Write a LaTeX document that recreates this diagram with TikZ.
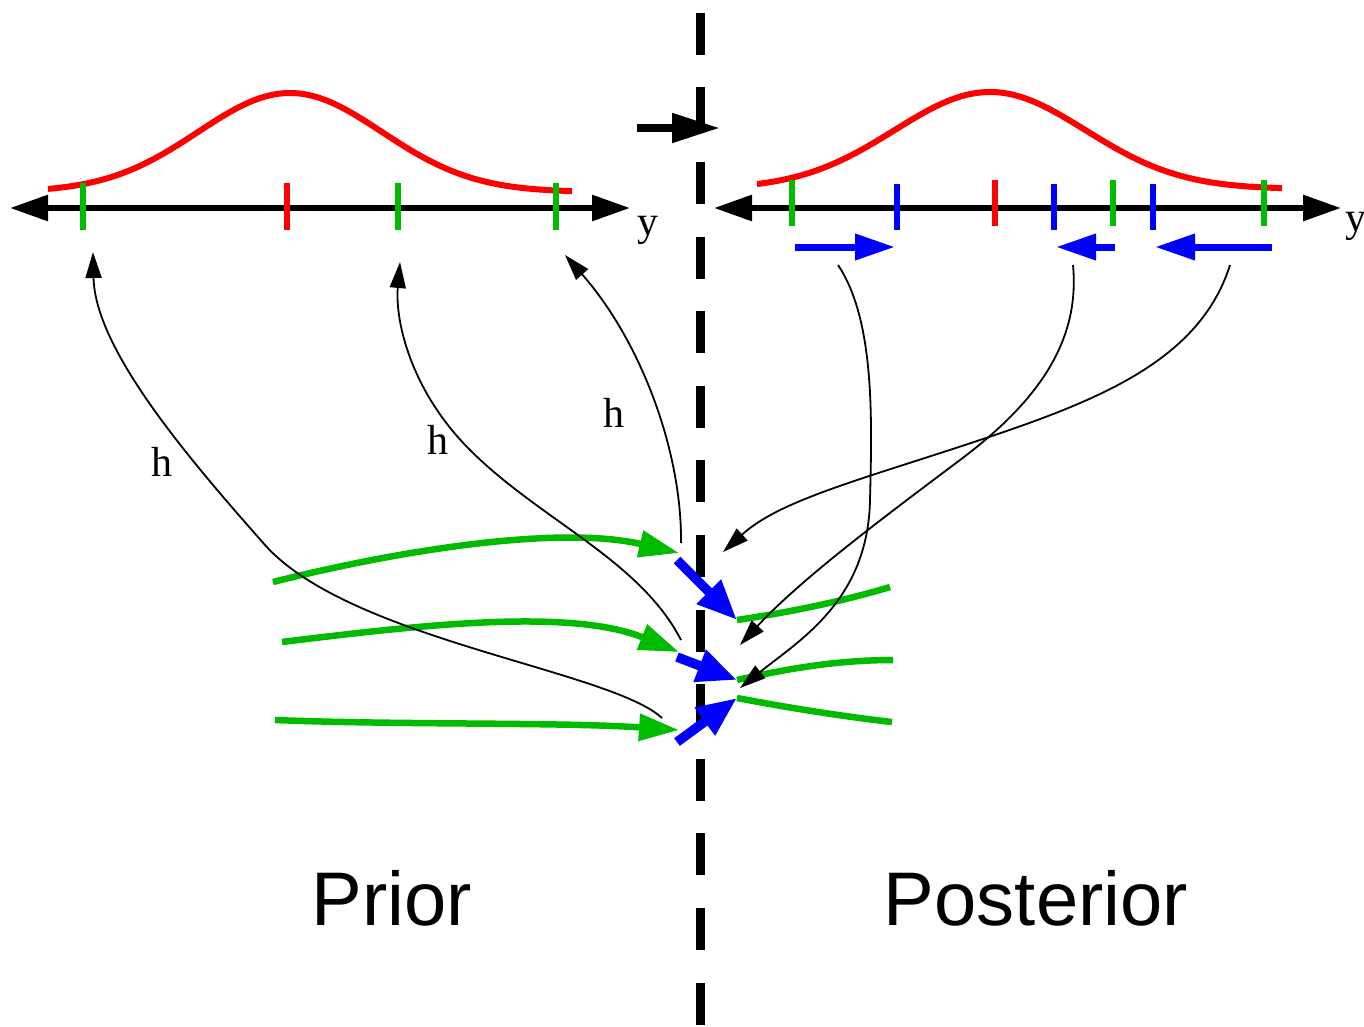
\documentclass[tikz,border=0pt]{standalone}
\usepackage{fontspec}
\setmainfont{Liberation Serif}
\newfontfamily\labelfont{Liberation Sans}
\usetikzlibrary{arrows.meta}
\definecolor{cgreen}{RGB}{0,187,0}
\definecolor{cred}{RGB}{255,0,0}
\definecolor{cblue}{RGB}{0,0,255}
\tikzset{
  axisline/.style={line width=6pt, {Triangle[length=38pt,width=25pt]}-{Triangle[length=38pt,width=25pt]}},
  tickg/.style={cgreen, line width=6.5pt},
  tickr/.style={cred, line width=6.5pt},
  tickb/.style={cblue, line width=6.5pt},
  density/.style={cred, line width=6pt},
  thinarrow/.style={line width=1.8pt, -{Triangle[length=26pt,width=16pt]}},
  greenarrow/.style={cgreen, line width=6.5pt, -{Triangle[length=40pt,width=26pt]}},
  greenline/.style={cgreen, line width=6.5pt},
  bluearrow/.style={cblue, line width=9.5pt, -{Triangle[length=40pt,width=32pt]}},
  bluesmall/.style={cblue, line width=7pt, -{Triangle[length=40pt,width=25pt]}},
  varlabel/.style={font=\fontsize{42}{48}\selectfont},
  bigtext/.style={font=\labelfont\fontsize{76}{86}\selectfont}
}
\begin{document}
\begin{tikzpicture}[x=1pt,y=-1pt]
\useasboundingbox (0,0) rectangle (1364,1026);
% dividing line
\draw[line width=9pt, dash pattern=on 42pt off 32.6pt] (700,12.8) -- (700,1026);
% top arrow
\coordinate (ta) at (637,128); \coordinate (tb) at (720,128);
\draw[line width=8pt, -{Triangle[length=48pt,width=28pt]}] (ta) -- (tb);

% left axis
\coordinate (la) at (10,208); \coordinate (lb) at (630,208);
\draw[axisline] (la) -- (lb);
\node[varlabel] (ly) at (648,230) {y};
\draw[density] plot[domain=48:572, samples=80, smooth] (\x,{192-99*exp(-((\x-290)/130)^2)});
\draw[tickg] (83,183) -- (83,230);
\draw[tickr] (287,183) -- (287,230);
\draw[tickg] (398,183) -- (398,230);
\draw[tickg] (556,183) -- (556,230);

% right axis
\coordinate (ra) at (714,208); \coordinate (rb) at (1341,208);
\draw[axisline] (ra) -- (rb);
\node[varlabel] (ry) at (1356,226) {y};
\draw[density] plot[domain=757:1282, samples=80, smooth] (\x,{189-97*exp(-((\x-990)/135)^2)});
\draw[tickg] (792,180) -- (792,226);
\draw[tickb] (897,184) -- (897,230);
\draw[tickr] (995,180) -- (995,226);
\draw[tickb] (1054,184) -- (1054,230);
\draw[tickg] (1113,180) -- (1113,226);
\draw[tickb] (1153,184) -- (1153,230);
\draw[tickg] (1264,180) -- (1264,226);
% shift arrows
\coordinate (s1a) at (795,247); \coordinate (s1b) at (895,247);
\coordinate (s2a) at (1115,247); \coordinate (s2b) at (1056,247);
\coordinate (s3a) at (1272,247); \coordinate (s3b) at (1155,247);
\draw[bluesmall] (s1a) -- (s1b);
\draw[bluesmall] (s2a) -- (s2b);
\draw[bluesmall] (s3a) -- (s3b);

% green trajectories (prior side)
\coordinate (g1a) at (273,582); \coordinate (g1b) at (679,553);
\coordinate (g2a) at (282,642); \coordinate (g2b) at (679,652);
\coordinate (g3a) at (275,720); \coordinate (g3b) at (679,730);
\draw[greenarrow] (g1a) .. controls (400,550) and (560,525) .. (g1b);
\draw[greenarrow] (g2a) .. controls (420,625) and (570,608) .. (g2b);
\draw[greenarrow] (g3a) .. controls (400,725) and (560,722) .. (g3b);
% green trajectories (posterior side)
\coordinate (p1a) at (737,620); \coordinate (p1b) at (890,587);
\coordinate (p2a) at (737,680); \coordinate (p2b) at (893,660);
\coordinate (p3a) at (737,698); \coordinate (p3b) at (892,722);
\draw[greenline] (p1a) .. controls (790,612) and (840,602) .. (p1b);
\draw[greenline] (p2a) .. controls (790,668) and (840,660) .. (p2b);
\draw[greenline] (p3a) .. controls (790,708) and (840,716) .. (p3b);
% blue update arrows
\coordinate (b1a) at (677,560);
\coordinate (b2a) at (677,657);
\coordinate (b3a) at (677,742);
\draw[bluearrow] (b1a) -- (p1a);
\draw[bluearrow] (b2a) -- (p2a);
\draw[bluearrow] (b3a) -- (p3a);

% h mappings
\coordinate (h1a) at (662,718); \coordinate (h1b) at (93,252);
\coordinate (h2a) at (681,640); \coordinate (h2b) at (400,262);
\coordinate (h3a) at (681,543); \coordinate (h3b) at (565,255);
\draw[thinarrow] (h1a) .. controls (610,670) and (350,640) .. (265,545) .. controls (190,460) and (95,350) .. (h1b);
\draw[thinarrow] (h2a) .. controls (640,560) and (540,520) .. (470,450) .. controls (410,390) and (395,320) .. (h2b);
\draw[thinarrow] (h3a) .. controls (682,450) and (640,340) .. (h3b);
\node[varlabel] (hl1) at (162,462) {h};
\node[varlabel] (hl2) at (438,440) {h};
\node[varlabel] (hl3) at (614,413) {h};

% increments back to ensemble
\coordinate (u1a) at (838,265); \coordinate (u1b) at (740,688);
\coordinate (u2a) at (1073,265); \coordinate (u2b) at (740,645);
\coordinate (u3a) at (1230,265); \coordinate (u3b) at (723,552);
\draw[thinarrow] (u1a) .. controls (875,320) and (872,420) .. (870,500) .. controls (868,600) and (800,640) .. (u1b);
\draw[thinarrow] (u2a) .. controls (1080,340) and (1040,400) .. (960,460) .. controls (880,520) and (800,580) .. (u2b);
\draw[thinarrow] (u3a) .. controls (1200,360) and (1100,400) .. (980,440) .. controls (860,480) and (780,500) .. (u3b);

% titles
\node[bigtext] (prior) at (392,898) {Prior};
\node[bigtext] (post) at (1036,898) {Posterior};
\end{tikzpicture}
\end{document}
